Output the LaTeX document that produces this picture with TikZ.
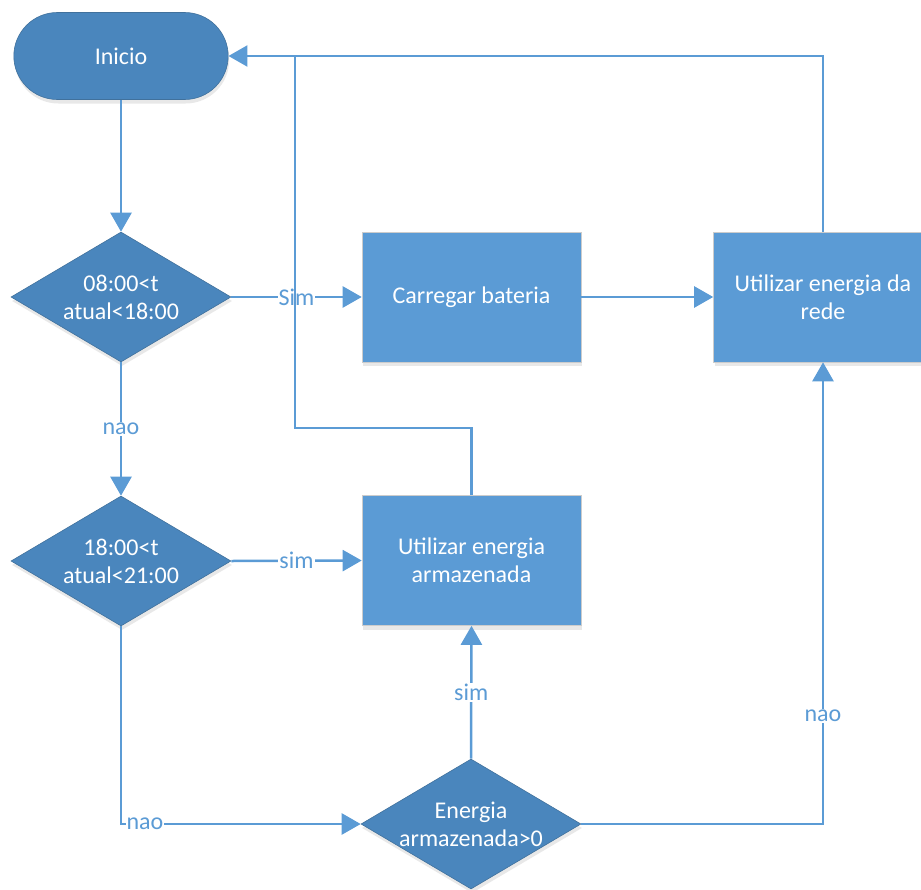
\documentclass[tikz,border=0pt]{standalone}
\usepackage{fontspec}
\setmainfont{Carlito}
\usetikzlibrary{shapes.geometric,shapes.misc,arrows.meta,shadows}
\definecolor{darkfill}{HTML}{4A86BD}
\definecolor{lightfill}{HTML}{5B9BD5}
\definecolor{edgeblue}{HTML}{41719C}
\definecolor{linecol}{HTML}{5B9BD5}
\begin{document}
\begin{tikzpicture}[x=1pt,y=-1pt,
  every node/.style={font=\fontsize{24}{28}\selectfont},
  shad/.style={drop shadow={shadow xshift=1pt,shadow yshift=-4pt,opacity=0.15,fill=black!60}},
  startbox/.style={rounded rectangle, fill=darkfill, draw=edgeblue, line width=0.6pt, text=white, minimum width=221pt, minimum height=87pt, shad},
  decbox/.style={diamond, fill=darkfill, draw=edgeblue, line width=0.6pt, text=white, minimum width=220pt, minimum height=130pt, inner sep=0pt, aspect=1.69, align=center, shad},
  procbox/.style={rectangle, fill=lightfill, draw=black!20, line width=0.6pt, text=white, minimum width=219pt, minimum height=130pt, align=center, shad},
  conn/.style={draw=linecol, line width=2.5pt},
  arr/.style={conn, -{Triangle[length=19pt,width=21pt]}},
  lbl/.style={fill=white, text=linecol, inner sep=1pt}
]
\useasboundingbox (0,0) rectangle (921,889);
\node[startbox] (inicio) at (121,56) {Inicio};
\node[decbox] (d1) at (121,297) {08:00<t\\atual<18:00};
\node[decbox] (d2) at (121,561) {18:00<t\\atual<21:00};
\node[decbox] (d3) at (471,824) {Energia\\armazenada>0};
\node[procbox] (carr) at (471.5,297) {Carregar bateria};
\node[procbox] (rede) at (823,297) {Utilizar energia da\\rede};
\node[procbox] (arm) at (471.5,560.5) {Utilizar energia\\armazenada};
\coordinate (k1) at (295,428);
\coordinate (k2) at (295,56);

\draw[arr] (inicio.south) -- (d1.north);
\draw[arr] (d1.east) -- node[lbl] {Sim} (carr.west);
\draw[arr] (d1.south) -- node[lbl] {nao} (d2.north);
\draw[arr] (d2.east) -- node[lbl] {sim} (arm.west);
\draw[arr] (d2.south) |- node[lbl,pos=0.55] {nao} (d3.west);
\draw[arr] (d3.north) -- node[lbl] {sim} (arm.south);
\draw[arr] (d3.east) -| node[lbl,pos=0.617] {nao} (rede.south);
\draw[arr] (carr.east) -- (rede.west);
\draw[arr] (rede.north) |- (inicio.east);
\draw[conn] (arm.north) |- (k1) -- (k2);
\end{tikzpicture}
\end{document}
